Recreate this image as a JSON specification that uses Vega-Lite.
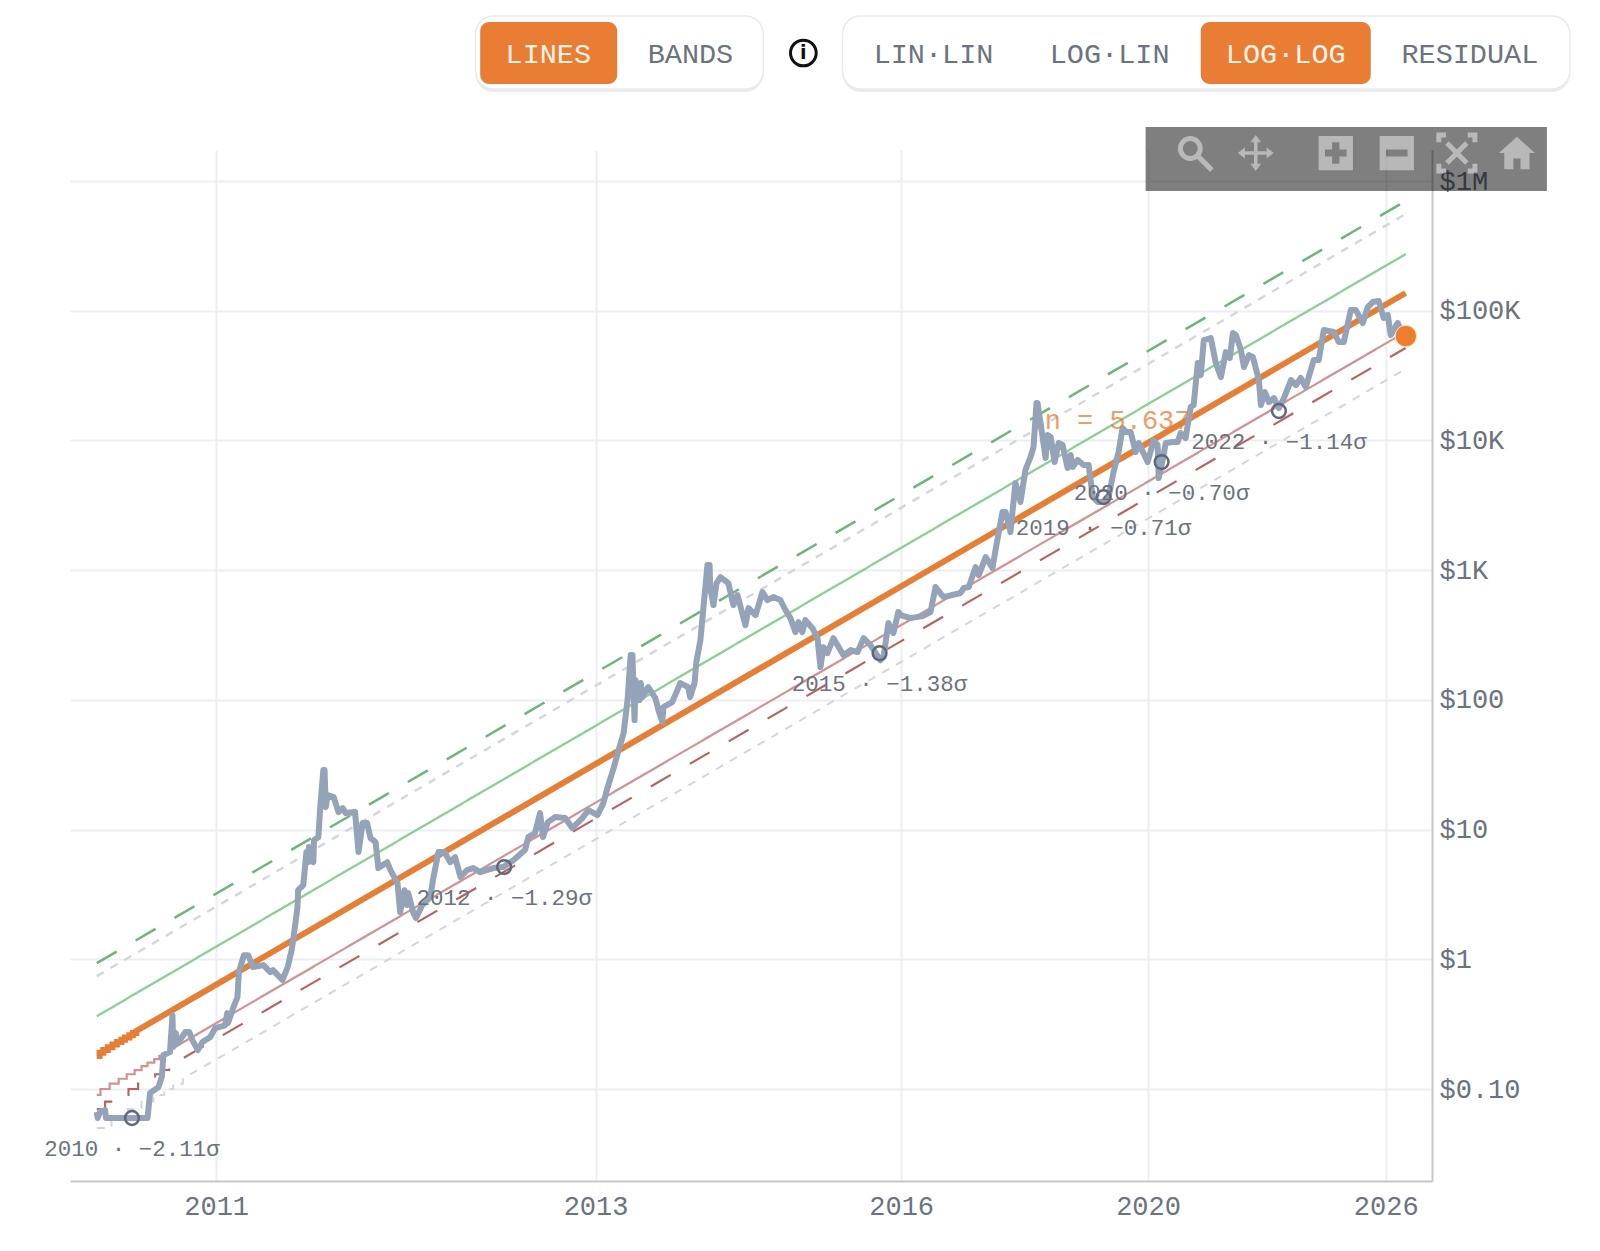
{
  "$schema": "https://vega.github.io/schema/vega-lite/v6.json",
  "width": 1362,
  "height": 1031,
  "autosize": "none",
  "padding": {"left": 70, "top": 150, "right": 168, "bottom": 70},
  "background": "#ffffff",
  "config": {"view": {"stroke": null}},
  "resolve": {"scale": {"color": "independent", "shape": "independent"}},
  "datasets": {
    "bands": [
      {"series": "upper_dash", "day": 585, "price": 0.934},
      {"series": "upper_dash", "day": 6436, "price": 700600},
      {"series": "upper_grey", "day": 585, "price": 0.7417},
      {"series": "upper_grey", "day": 6436, "price": 556400},
      {"series": "upper", "day": 585, "price": 0.364},
      {"series": "upper", "day": 6436, "price": 273200},
      {"series": "lower", "day": 585, "price": 0.09},
      {"series": "lower", "day": 589, "price": 0.09},
      {"series": "lower", "day": 589, "price": 0.1},
      {"series": "lower", "day": 599, "price": 0.1},
      {"series": "lower", "day": 599, "price": 0.11},
      {"series": "lower", "day": 609, "price": 0.11},
      {"series": "lower", "day": 609, "price": 0.12},
      {"series": "lower", "day": 618, "price": 0.12},
      {"series": "lower", "day": 618, "price": 0.13},
      {"series": "lower", "day": 627, "price": 0.13},
      {"series": "lower", "day": 627, "price": 0.14},
      {"series": "lower", "day": 635, "price": 0.14},
      {"series": "lower", "day": 635, "price": 0.15},
      {"series": "lower", "day": 642, "price": 0.15},
      {"series": "lower", "day": 642, "price": 0.16},
      {"series": "lower", "day": 650, "price": 0.16},
      {"series": "lower", "day": 650, "price": 0.17},
      {"series": "lower", "day": 656, "price": 0.17},
      {"series": "lower", "day": 656, "price": 0.18},
      {"series": "lower", "day": 663, "price": 0.18},
      {"series": "lower", "day": 663, "price": 0.19},
      {"series": "lower", "day": 669, "price": 0.19},
      {"series": "lower", "day": 669, "price": 0.2},
      {"series": "lower", "day": 6436, "price": 68620},
      {"series": "lower_dash", "day": 585, "price": 0.07},
      {"series": "lower_dash", "day": 594, "price": 0.07},
      {"series": "lower_dash", "day": 594, "price": 0.08},
      {"series": "lower_dash", "day": 607, "price": 0.08},
      {"series": "lower_dash", "day": 607, "price": 0.09},
      {"series": "lower_dash", "day": 620, "price": 0.09},
      {"series": "lower_dash", "day": 620, "price": 0.1},
      {"series": "lower_dash", "day": 631, "price": 0.1},
      {"series": "lower_dash", "day": 631, "price": 0.11},
      {"series": "lower_dash", "day": 641, "price": 0.11},
      {"series": "lower_dash", "day": 641, "price": 0.12},
      {"series": "lower_dash", "day": 651, "price": 0.12},
      {"series": "lower_dash", "day": 651, "price": 0.13},
      {"series": "lower_dash", "day": 659, "price": 0.13},
      {"series": "lower_dash", "day": 659, "price": 0.14},
      {"series": "lower_dash", "day": 668, "price": 0.14},
      {"series": "lower_dash", "day": 668, "price": 0.15},
      {"series": "lower_dash", "day": 676, "price": 0.15},
      {"series": "lower_dash", "day": 676, "price": 0.16},
      {"series": "lower_dash", "day": 6436, "price": 51570},
      {"series": "lower_grey", "day": 585, "price": 0.05},
      {"series": "lower_grey", "day": 601, "price": 0.05},
      {"series": "lower_grey", "day": 601, "price": 0.06},
      {"series": "lower_grey", "day": 619, "price": 0.06},
      {"series": "lower_grey", "day": 619, "price": 0.07},
      {"series": "lower_grey", "day": 635, "price": 0.07},
      {"series": "lower_grey", "day": 635, "price": 0.08},
      {"series": "lower_grey", "day": 649, "price": 0.08},
      {"series": "lower_grey", "day": 649, "price": 0.09},
      {"series": "lower_grey", "day": 662, "price": 0.09},
      {"series": "lower_grey", "day": 662, "price": 0.1},
      {"series": "lower_grey", "day": 673, "price": 0.1},
      {"series": "lower_grey", "day": 673, "price": 0.11},
      {"series": "lower_grey", "day": 685, "price": 0.11},
      {"series": "lower_grey", "day": 685, "price": 0.12},
      {"series": "lower_grey", "day": 6436, "price": 35510},
      {"series": "fit", "day": 585, "price": 0.18},
      {"series": "fit", "day": 588, "price": 0.18},
      {"series": "fit", "day": 588, "price": 0.19},
      {"series": "fit", "day": 592, "price": 0.19},
      {"series": "fit", "day": 592, "price": 0.2},
      {"series": "fit", "day": 597, "price": 0.2},
      {"series": "fit", "day": 597, "price": 0.21},
      {"series": "fit", "day": 602, "price": 0.21},
      {"series": "fit", "day": 602, "price": 0.22},
      {"series": "fit", "day": 607, "price": 0.22},
      {"series": "fit", "day": 607, "price": 0.23},
      {"series": "fit", "day": 612, "price": 0.23},
      {"series": "fit", "day": 612, "price": 0.24},
      {"series": "fit", "day": 616, "price": 0.24},
      {"series": "fit", "day": 616, "price": 0.25},
      {"series": "fit", "day": 621, "price": 0.25},
      {"series": "fit", "day": 621, "price": 0.26},
      {"series": "fit", "day": 625, "price": 0.26},
      {"series": "fit", "day": 625, "price": 0.27},
      {"series": "fit", "day": 629, "price": 0.27},
      {"series": "fit", "day": 629, "price": 0.28},
      {"series": "fit", "day": 6436, "price": 136900}
    ],
    "history": [
      {"day":585,"price":0.0665},{"day":586,"price":0.0598},{"day":589,"price":0.0677},{"day":593,"price":0.0677},{"day":594,"price":0.0689},{"day":595,"price":0.0598},{"day":624,"price":0.0598},{"day":642,"price":0.0598},
      {"day":645,"price":0.0931},{"day":655,"price":0.1035},{"day":659,"price":0.1235},{"day":661,"price":0.1826},{"day":669,"price":0.1925},{"day":672,"price":0.371},{"day":673,"price":0.2105},{"day":676,"price":0.27},{"day":679,"price":0.226},{"day":688,"price":0.2747},{"day":693,"price":0.2747},{"day":697,"price":0.238},
      {"day":704,"price":0.1996},{"day":710,"price":0.23},{"day":720,"price":0.251},{"day":727,"price":0.295},{"day":740,"price":0.31},{"day":743,"price":0.385},{"day":744,"price":0.322},{"day":751,"price":0.42},{"day":757,"price":0.511},{"day":759,"price":0.796},{"day":766,"price":1.077},{"day":772,"price":1.077},{"day":779,"price":0.871},{"day":794,"price":0.902},{"day":804,"price":0.797},{"day":808,"price":0.826},{"day":822,"price":0.692},{"day":830,"price":0.871},{"day":836,"price":1.177},{"day":839,"price":1.483},
      {"day":845,"price":2.527},{"day":846,"price":3.417},{"day":854,"price":3.73},{"day":859,"price":6.71},{"day":862,"price":5.61},{"day":863,"price":7.33},{"day":870,"price":5.61},{"day":871,"price":8.3},{"day":878,"price":8.77},{"day":881,"price":14.9},{"day":886,"price":28.78},{"day":888,"price":28.78},{"day":890,"price":14.9},{"day":893,"price":18.45},{"day":903,"price":17.81},{"day":911,"price":13.64},{"day":918,"price":14.65},{"day":923,"price":13.4},{"day":939,"price":13.64},{"day":945,"price":6.71},{"day":952,"price":11.22},{"day":960,"price":11.22},{"day":966,"price":8.6},{"day":975,"price":8.0},{"day":980,"price":5.05},{"day":996,"price":5.61},
      {"day":1002,"price":4.87},{"day":1015,"price":3.87},{"day":1020,"price":2.31},{"day":1028,"price":3.41},{"day":1033,"price":2.62},{"day":1035,"price":3.24},{"day":1045,"price":2.27},{"day":1050,"price":2.08},{"day":1062,"price":2.62},{"day":1078,"price":3.02},{"day":1083,"price":4.08},{"day":1094,"price":6.71},{"day":1106,"price":6.71},{"day":1118,"price":5.61},{"day":1128,"price":6.13},{"day":1139,"price":4.31},{"day":1153,"price":4.87},{"day":1166,"price":5.05},{"day":1181,"price":4.7},{"day":1210,"price":5.05},{"day":1232,"price":5.14},{"day":1255,"price":5.81},{"day":1282,"price":6.95},{"day":1290,"price":8.76},{"day":1306,"price":9.4},{"day":1318,"price":13.4},{"day":1325,"price":8.76},{"day":1337,"price":11.42},{"day":1355,"price":12.49},{"day":1380,"price":12.27},{"day":1398,"price":10.27},{"day":1424,"price":12.27},{"day":1440,"price":14.13},{"day":1464,"price":12.94},{"day":1480,"price":16.0},{"day":1491,"price":20.9},
      {"day":1508,"price":29.8},{"day":1522,"price":41.0},{"day":1536,"price":55.5},{"day":1547,"price":99.6},{"day":1556,"price":221.5},{"day":1561,"price":221.5},{"day":1567,"price":69.9},{"day":1570,"price":142},{"day":1582,"price":99.6},{"day":1585,"price":134.7},{"day":1590,"price":105},{"day":1607,"price":125.5},{"day":1628,"price":103},{"day":1637,"price":83.5},{"day":1649,"price":67.4},{"day":1652,"price":88},{"day":1679,"price":96},{"day":1704,"price":134.7},{"day":1729,"price":125.5},{"day":1735,"price":105},{"day":1749,"price":134.7},{"day":1755,"price":195.7},{"day":1768,"price":289},{"day":1778,"price":519},{"day":1791,"price":1095},{"day":1798,"price":1095},{"day":1800,"price":728},{"day":1811,"price":538},{"day":1821,"price":795},{"day":1834,"price":885},{"day":1861,"price":795},{"day":1878,"price":538},{"day":1892,"price":643},{"day":1920,"price":377},{"day":1931,"price":510},{"day":1956,"price":451},{"day":1981,"price":678},{"day":1999,"price":588},
      {"day":2021,"price":620},{"day":2047,"price":588},{"day":2066,"price":493},{"day":2085,"price":427},{"day":2104,"price":333},{"day":2116,"price":398},{"day":2131,"price":333},{"day":2143,"price":412},{"day":2171,"price":357},{"day":2191,"price":299},{"day":2203,"price":179},{"day":2215,"price":255},{"day":2231,"price":229},{"day":2256,"price":299},{"day":2298,"price":221},{"day":2328,"price":242},{"day":2358,"price":234},{"day":2384,"price":299},{"day":2414,"price":264},{"day":2459,"price":202},{"day":2473,"price":214},{"day":2495,"price":391},{"day":2518,"price":327},{"day":2541,"price":476},{"day":2551,"price":451},{"day":2598,"price":427},{"day":2656,"price":442},{"day":2695,"price":476},{"day":2720,"price":741},{"day":2760,"price":620},{"day":2848,"price":667},{"day":2864,"price":728},{"day":2891,"price":741},{"day":2927,"price":1056},{"day":2944,"price":917},{"day":2982,"price":1262},{"day":3019,"price":1038},{"day":3036,"price":1429},
      {"day":3075,"price":2805},{"day":3092,"price":2805},{"day":3120,"price":1966},{"day":3149,"price":4690},{"day":3178,"price":3350},{"day":3207,"price":5920},{"day":3237,"price":7450},{"day":3255,"price":8890},{"day":3273,"price":19440},{"day":3279,"price":19440},{"day":3297,"price":13620},{"day":3328,"price":7315},{"day":3340,"price":11000},{"day":3359,"price":10620},{"day":3383,"price":6817},{"day":3408,"price":9550},{"day":3433,"price":9217},{"day":3465,"price":6128},{"day":3484,"price":7716},{"day":3497,"price":6238},{"day":3529,"price":7062},{"day":3568,"price":6460},{"day":3601,"price":6460},{"day":3628,"price":3663},{"day":3661,"price":3356},{"day":3701,"price":3356},{"day":3735,"price":3663},{"day":3769,"price":5708},{"day":3804,"price":8137},{"day":3832,"price":12460},{"day":3853,"price":11610},{"day":3889,"price":11610},{"day":3925,"price":8137},{"day":3947,"price":9550},
      {"day":4012,"price":6817},{"day":4056,"price":10000},{"day":4086,"price":9217},{"day":4094,"price":5131},{"day":4124,"price":7062},{"day":4147,"price":9550},{"day":4200,"price":9720},{"day":4239,"price":9720},{"day":4262,"price":11400},{"day":4301,"price":10430},{"day":4341,"price":18090},{"day":4365,"price":18750},{"day":4398,"price":39500},{"day":4422,"price":31900},{"day":4447,"price":59400},{"day":4504,"price":61600},{"day":4546,"price":39500},{"day":4588,"price":30800},{"day":4630,"price":48000},{"day":4664,"price":43200},{"day":4690,"price":67300},{"day":4716,"price":64900},{"day":4760,"price":49700},{"day":4786,"price":36800},{"day":4830,"price":45500},{"day":4865,"price":44000},{"day":4919,"price":29200},{"day":4937,"price":18750},{"day":4973,"price":23600},{"day":5010,"price":19770},{"day":5056,"price":21200},{"day":5103,"price":17770},{"day":5150,"price":21200},{"day":5217,"price":29200},{"day":5265,"price":26700},{"day":5311,"price":30300},{"day":5360,"price":25800},{"day":5439,"price":41700},{"day":5489,"price":41700},{"day":5540,"price":71000},{"day":5642,"price":68500},{"day":5694,"price":57400},{"day":5747,"price":57400},{"day":5821,"price":101200},{"day":5875,"price":101200},{"day":5950,"price":80400},{"day":6005,"price":106800},{"day":6060,"price":116700},{"day":6127,"price":118800},{"day":6183,"price":87900},{"day":6229,"price":92700},{"day":6263,"price":65000},{"day":6344,"price":80400},{"day":6403,"price":65000},{"day":6439,"price":63800}
    ],
    "lows": [
      {"day": 624, "price": 0.0598, "label": "2010 · −2.11σ"},
      {"day": 1234, "price": 5.14, "label": "2012 · −1.29σ"},
      {"day": 2455, "price": 229, "label": "2015 · −1.38σ"},
      {"day": 3701, "price": 3663, "label": "2019 · −0.71σ"},
      {"day": 4116, "price": 6817, "label": "2020 · −0.70σ"},
      {"day": 5103, "price": 16860, "label": "2022 · −1.14σ"}
    ],
    "shadows": [
      {"day": 1171, "day2": 1984, "price": 17700000, "price2": 4860000},
      {"day": 2294, "day2": 8697, "price": 17700000, "price2": 4860000}
    ],
    "pills": [
      {"day": 1171, "day2": 1984, "price": 18700000, "price2": 5120000},
      {"day": 2294, "day2": 8697, "price": 18700000, "price2": 5120000}
    ],
    "active": [
      {"day": 1181, "day2": 1518, "price": 16820000, "price2": 5600000},
      {"day": 4422, "day2": 6038, "price": 16820000, "price2": 5600000}
    ],
    "buttons": [
      {"day": 1338, "price": 9530000, "label": "LINES", "state": "on"},
      {"day": 1736, "price": 9530000, "label": "BANDS", "state": "off"},
      {"day": 2710, "price": 9530000, "label": "LIN·LIN", "state": "off"},
      {"day": 3742, "price": 9530000, "label": "LOG·LIN", "state": "off"},
      {"day": 5167, "price": 9530000, "label": "LOG·LOG", "state": "on"},
      {"day": 7240, "price": 9530000, "label": "RESIDUAL", "state": "off"}
    ],
    "toolbar": [
      {"day": 3997, "day2": 8338, "price": 2608000, "price2": 837500}
    ],
    "solidIcons": [
      {"day": 4891, "price": 1644000, "icon": "move"},
      {"day": 5663, "price": 1644000, "icon": "plus"},
      {"day": 6333, "price": 1644000, "icon": "minus"},
      {"day": 7892, "price": 1644000, "icon": "home"}
    ],
    "lineIcons": [
      {"day": 4374, "price": 1644000, "icon": "zoom"},
      {"day": 7070, "price": 1644000, "icon": "fit"}
    ]
  },
  "encoding": {
    "x": {
      "field": "day",
      "type": "quantitative",
      "title": null,
      "scale": {"type": "log", "domain": [557, 6755], "nice": false},
      "axis": {
        "values": [728, 1459, 2554, 4015, 6206],
        "labelExpr": "{'728':'2011','1459':'2013','2554':'2016','4015':'2020','6206':'2026'}[datum.value]",
        "labelFont": "Liberation Mono",
        "labelFontSize": 27,
        "labelColor": "#6b7280",
        "labelPadding": 12,
        "labelOverlap": false,
        "labelBound": false,
        "labelFlush": false,
        "ticks": false,
        "domainColor": "#c4c7cd",
        "domainWidth": 2,
        "gridColor": "#eceef1",
        "gridWidth": 2
      }
    },
    "y": {
      "field": "price",
      "type": "quantitative",
      "title": null,
      "scale": {"type": "log", "domain": [0.01954, 1734000], "nice": false},
      "axis": {
        "orient": "right",
        "values": [0.1, 1, 10, 100, 1000, 10000, 100000, 1000000],
        "labelExpr": "datum.value>=1000000?'$1M':datum.value>=1000?'$'+datum.value/1000+'K':datum.value<1?'$0.10':'$'+datum.value",
        "labelFont": "Liberation Mono",
        "labelFontSize": 27,
        "labelColor": "#6b7280",
        "labelPadding": 7,
        "labelOverlap": false,
        "labelBound": false,
        "labelFlush": false,
        "ticks": false,
        "domainColor": "#c4c7cd",
        "domainWidth": 2,
        "gridColor": "#eceef1",
        "gridWidth": 2
      }
    }
  },
  "layer": [
    {
      "data": {"name": "bands"},
      "transform": [{"filter": "datum.series != 'fit'"}],
      "mark": {"type": "line", "strokeCap": "butt"},
      "encoding": {
        "order": {"value": null},
        "color": {
          "field": "series",
          "type": "nominal",
          "legend": null,
          "scale": {
            "domain": ["upper_dash", "upper_grey", "upper", "lower", "lower_dash", "lower_grey"],
            "range": ["#6db578", "#d3d6db", "#8ad093", "#d39191", "#bb5f5f", "#d3d6db"]
          }
        },
        "strokeDash": {
          "field": "series",
          "type": "nominal",
          "legend": null,
          "scale": {
            "domain": ["upper_dash", "upper_grey", "upper", "lower", "lower_dash", "lower_grey"],
            "range": [[23, 22], [8, 8], [1, 0], [1, 0], [23, 22], [8, 8], [1, 0]]
          }
        },
        "size": {
          "field": "series",
          "type": "nominal",
          "legend": null,
          "scale": {
            "domain": ["upper_dash", "upper_grey", "upper", "lower", "lower_dash", "lower_grey"],
            "range": [2.5, 2, 2.2, 2.5, 2.5, 2]
          }
        }
      }
    },
    {
      "data": {"name": "bands"},
      "transform": [{"filter": "datum.series == 'fit'"}],
      "mark": {"type": "line", "color": "#e67e35", "strokeWidth": 6, "strokeCap": "butt"},
      "encoding": {"order": {"value": null}}
    },
    {
      "data": {"name": "history"},
      "mark": {"type": "line", "color": "#94a3b8", "strokeWidth": 6, "strokeJoin": "round"},
      "encoding": {"order": {"value": null}}
    },
    {
      "data": {"name": "lows"},
      "mark": {"type": "point", "shape": "circle", "size": 190, "filled": false, "stroke": "#5f677b", "strokeWidth": 2.5, "opacity": 1}
    },
    {
      "data": {"name": "lows"},
      "mark": {"type": "text", "dy": 31, "font": "Liberation Mono", "fontSize": 22.5, "color": "#6b7280", "align": "center", "baseline": "middle"},
      "encoding": {"text": {"field": "label"}}
    },
    {
      "data": {"values": [{"day": 3797, "price": 14110, "label": "n = 5.637"}]},
      "mark": {"type": "text", "font": "Liberation Mono", "fontSize": 27, "color": "#e67e35", "opacity": 0.75, "align": "center", "baseline": "middle"},
      "encoding": {"text": {"field": "label"}}
    },
    {
      "data": {"values": [{"day": 6439, "price": 63800}]},
      "mark": {"type": "point", "shape": "circle", "size": 460, "filled": true, "fill": "#ee7d2d", "stroke": "#fbe3cf", "strokeWidth": 1, "opacity": 1}
    },
    {
      "data": {"name": "toolbar"},
      "mark": {"type": "rect", "color": "#000000", "opacity": 0.5},
      "encoding": {"x2": {"field": "day2"}, "y2": {"field": "price2"}}
    },
    {
      "data": {"name": "solidIcons"},
      "mark": {"type": "point", "filled": true, "fill": "#ffffff", "size": 1300, "opacity": 0.45, "strokeWidth": 0},
      "encoding": {
        "shape": {
          "field": "icon",
          "type": "nominal",
          "legend": null,
          "scale": {
            "domain": ["move", "plus", "minus", "home"],
            "range": [
              "M0,-1L0.3,-0.6L0.1,-0.6L0.1,-0.1L0.6,-0.1L0.6,-0.3L1,0L0.6,0.3L0.6,0.1L0.1,0.1L0.1,0.6L0.3,0.6L0,1L-0.3,0.6L-0.1,0.6L-0.1,0.1L-0.6,0.1L-0.6,0.3L-1,0L-0.6,-0.3L-0.6,-0.1L-0.1,-0.1L-0.1,-0.6L-0.3,-0.6Z",
              "M-0.95,-0.95L0.95,-0.95L0.95,0.95L-0.95,0.95Z M-0.2,-0.6L-0.2,-0.2L-0.6,-0.2L-0.6,0.2L-0.2,0.2L-0.2,0.6L0.2,0.6L0.2,0.2L0.6,0.2L0.6,-0.2L0.2,-0.2L0.2,-0.6Z",
              "M-0.95,-0.95L0.95,-0.95L0.95,0.95L-0.95,0.95Z M-0.6,-0.2L-0.6,0.2L0.6,0.2L0.6,-0.2Z",
              "M0,-0.9L1,0L0.7,0L0.7,0.9L0.2,0.9L0.2,0.3L-0.2,0.3L-0.2,0.9L-0.7,0.9L-0.7,0L-1,0Z"
            ]
          }
        }
      }
    },
    {
      "data": {"name": "lineIcons"},
      "mark": {"type": "point", "filled": false, "stroke": "#ffffff", "size": 1300, "strokeWidth": 5, "opacity": 0.45},
      "encoding": {
        "shape": {
          "field": "icon",
          "type": "nominal",
          "legend": null,
          "scale": {
            "domain": ["zoom", "fit"],
            "range": [
              "M0.3,-0.25A0.55,0.55 0 1 1 -0.8,-0.25A0.55,0.55 0 1 1 0.3,-0.25M0.2,0.2L0.95,0.95",
              "M-1,-0.6L-1,-1L-0.6,-1M0.6,-1L1,-1L1,-0.6M1,0.6L1,1L0.6,1M-0.6,1L-1,1L-1,0.6M-0.55,-0.55L0.55,0.55M0.55,-0.55L-0.55,0.55"
            ]
          }
        }
      }
    },
    {
      "data": {"name": "shadows"},
      "mark": {"type": "rect", "color": "#000000", "opacity": 0.08, "cornerRadius": 18},
      "encoding": {"x2": {"field": "day2"}, "y2": {"field": "price2"}}
    },
    {
      "data": {"name": "pills"},
      "mark": {"type": "rect", "fill": "#ffffff", "stroke": "#e8eaee", "strokeWidth": 1.5, "cornerRadius": 18},
      "encoding": {"x2": {"field": "day2"}, "y2": {"field": "price2"}}
    },
    {
      "data": {"name": "active"},
      "mark": {"type": "rect", "color": "#e87d33", "cornerRadius": 9},
      "encoding": {"x2": {"field": "day2"}, "y2": {"field": "price2"}}
    },
    {
      "data": {"name": "buttons"},
      "mark": {"type": "text", "font": "Liberation Mono", "fontSize": 28.5, "align": "center", "baseline": "middle"},
      "encoding": {
        "text": {"field": "label"},
        "color": {
          "field": "state",
          "type": "nominal",
          "legend": null,
          "scale": {"domain": ["on", "off"], "range": ["#fff4e8", "#6b7280"]}
        }
      }
    },
    {
      "data": {"values": [{"day": 2135, "price": 9700000}]},
      "mark": {"type": "point", "shape": "circle", "size": 660, "filled": false, "stroke": "#111111", "strokeWidth": 3, "opacity": 1}
    },
    {
      "data": {"values": [{"day": 2135, "price": 9700000, "label": "i"}]},
      "mark": {"type": "text", "font": "DejaVu Sans", "fontWeight": "bold", "fontSize": 19, "color": "#111111", "align": "center", "baseline": "middle"},
      "encoding": {"text": {"field": "label"}}
    }
  ]
}
